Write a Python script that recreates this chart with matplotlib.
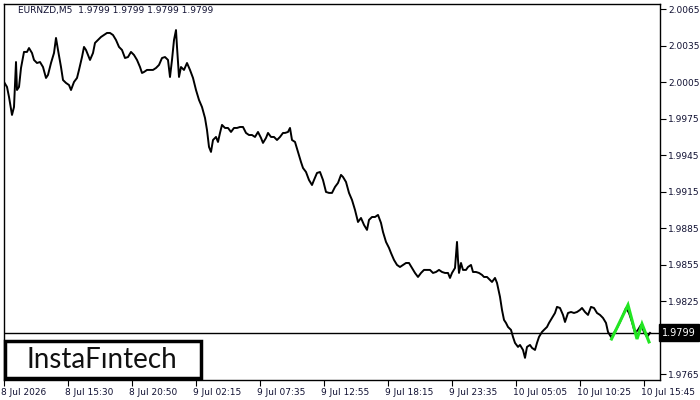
import matplotlib
matplotlib.use('Agg')
import matplotlib.pyplot as plt
import matplotlib.transforms as mtransforms
from matplotlib.patches import Rectangle

# ── Data (EURNZD M5, bar index -> close) ──────────────────
bar = [0, 3, 5, 8, 10, 12, 13, 15, 17, 20, 23, 25, 28, 30, 33, 36, 39, 42, 44, 47,
       50, 52, 54, 57, 59, 62, 65, 67, 70, 73, 75, 78, 80, 82, 84, 86, 89, 91, 94, 97,
       100, 103, 106, 109, 112, 115, 118, 121, 124, 127, 130, 133, 136, 138, 140, 143,
       146, 149, 152, 155, 158, 161, 164, 166, 168, 170, 172, 173, 175, 177, 180, 183,
       186, 189, 192, 195, 198, 201, 203, 205, 207, 209, 212, 214, 216, 218, 221, 224,
       227, 230, 233, 236, 239, 242, 245, 248, 251, 254, 257, 259, 262, 264, 267, 270,
       273, 276, 279, 281, 284, 286, 288, 291, 294, 297, 299, 302, 305, 308, 310, 313,
       316, 319, 322, 325, 328, 331, 334, 337, 339, 342, 345, 348, 351, 354, 357, 360,
       363, 365, 368, 371, 374, 377, 379, 382, 385, 387, 390, 393, 396, 399, 402, 405,
       408, 411, 414, 417, 420, 423, 426, 429, 432, 435, 438, 441, 444, 446, 448, 451,
       453, 454, 455, 457, 459, 462, 464, 467, 469, 472, 475, 478, 480, 483, 486, 488,
       491, 493, 496, 498, 500, 502, 504, 507, 509, 511, 514, 516, 519, 521, 523, 526,
       528, 531, 533, 535, 538, 540, 543, 545, 548, 551, 553, 556, 559, 561, 564, 567,
       570, 573, 576, 578, 581, 584, 587, 590, 593, 596, 599, 602, 604, 607, 610, 613,
       616, 619, 622, 625, 628, 631, 634, 637, 640, 643, 646]

close = [2.00052, 2.00011, 1.99929, 1.99781, 1.99846, 2.00216, 1.99986, 2.00011, 2.00167, 2.00299,
         2.00299, 2.00331, 2.00290, 2.00233, 2.00208, 2.00216, 2.00175, 2.00085, 2.00110, 2.00208,
         2.00290, 2.00414, 2.00315, 2.00175, 2.00068, 2.00044, 2.00027, 1.99986, 2.00052, 2.00085,
         2.00151, 2.00257, 2.00340, 2.00315, 2.00274, 2.00233, 2.00290, 2.00373, 2.00397, 2.00422,
         2.00438, 2.00455, 2.00455, 2.00438, 2.00397, 2.00340, 2.00315, 2.00249, 2.00257, 2.00299,
         2.00274, 2.00233, 2.00175, 2.00126, 2.00134, 2.00151, 2.00151, 2.00151, 2.00167, 2.00192,
         2.00249, 2.00257, 2.00233, 2.00093, 2.00233, 2.00397, 2.00479, 2.00340, 2.00093, 2.00175,
         2.00151, 2.00208, 2.00151, 2.00085, 1.99986, 1.99904, 1.99846, 1.99756, 1.99657, 1.99518,
         1.99477, 1.99575, 1.99600, 1.99559, 1.99633, 1.99699, 1.99674, 1.99674, 1.99641, 1.99674,
         1.99674, 1.99682, 1.99682, 1.99633, 1.99616, 1.99616, 1.99600, 1.99641, 1.99592, 1.99551,
         1.99592, 1.99633, 1.99600, 1.99600, 1.99575, 1.99600, 1.99633, 1.99633, 1.99641, 1.99674,
         1.99575, 1.99559, 1.99477, 1.99394, 1.99345, 1.99312, 1.99246, 1.99205, 1.99246, 1.99304,
         1.99312, 1.99246, 1.99148, 1.99140, 1.99140, 1.99189, 1.99222, 1.99288, 1.99271, 1.99230,
         1.99140, 1.99082, 1.99000, 1.98901, 1.98934, 1.98877, 1.98836, 1.98918, 1.98942, 1.98942,
         1.98959, 1.98893, 1.98819, 1.98737, 1.98688, 1.98646, 1.98589, 1.98548, 1.98531, 1.98548,
         1.98564, 1.98564, 1.98523, 1.98482, 1.98449, 1.98482, 1.98507, 1.98507, 1.98507, 1.98482,
         1.98490, 1.98507, 1.98490, 1.98482, 1.98482, 1.98441, 1.98482, 1.98523, 1.98737, 1.98589,
         1.98482, 1.98564, 1.98507, 1.98507, 1.98531, 1.98548, 1.98490, 1.98490, 1.98482, 1.98466,
         1.98449, 1.98449, 1.98425, 1.98408, 1.98441, 1.98400, 1.98285, 1.98178, 1.98096, 1.98071,
         1.98038, 1.98014, 1.97956, 1.97907, 1.97874, 1.97890, 1.97849, 1.97784, 1.97874, 1.97890,
         1.97866, 1.97849, 1.97907, 1.97956, 1.97997, 1.98014, 1.98038, 1.98071, 1.98112, 1.98153,
         1.98203, 1.98194, 1.98137, 1.98079, 1.98153, 1.98161, 1.98153, 1.98161, 1.98178, 1.98194,
         1.98161, 1.98137, 1.98203, 1.98194, 1.98153, 1.98137, 1.98112, 1.98071, 1.97997, 1.97956,
         1.97989, 1.98030, 1.98079, 1.98137, 1.98194, 1.98153, 1.98079, 1.97989, 1.98014, 1.98055,
         1.97997, 1.97956, 1.97989]

# pattern (green zigzag)
pattern_bar = [607.5, 624, 633, 638, 645]
pattern_price = [1.97939, 1.98219, 1.97939, 1.98063, 1.97915]

last_price = 1.9799
price_ticks = [2.0065, 2.0035, 2.0005, 1.9975, 1.9945, 1.9915, 1.9885,
               1.9855, 1.9825, 1.9795, 1.9765]
time_ticks = [0, 64, 128, 192, 256, 320, 384, 448, 512, 576, 640]
time_labels = ['8 Jul 2026', '8 Jul 15:30', '8 Jul 20:50', '9 Jul 02:15',
               '9 Jul 07:35', '9 Jul 12:55', '9 Jul 18:15', '9 Jul 23:35',
               '10 Jul 05:05', '10 Jul 10:25', '10 Jul 15:45']

# ── Figure ─────────────────────────────────────────────────
W, H = 700, 400
fig = plt.figure(figsize=(7, 4), dpi=100)
fig.patch.set_facecolor('white')
ax = fig.add_axes([4 / W, 20 / H, 656 / W, 376 / H])

ax.plot(bar, close, color='black', linewidth=1.4, zorder=2)
ax.plot(pattern_bar, pattern_price, color='#22e622', linewidth=2.2,
        solid_joinstyle='miter', zorder=3)
ax.axhline(last_price, color='black', linewidth=1, zorder=1)

ax.set_xlim(0, 656)
ax.set_ylim(1.97602, 2.00693)

for s in ax.spines.values():
    s.set_linewidth(1)
    s.set_color('black')

ax.yaxis.tick_right()
ax.set_yticks(price_ticks)
ax.set_yticklabels([f'{p:.4f}' for p in price_ticks])
ax.tick_params(axis='y', length=4, width=0.8, pad=2, labelsize=6.5,
               labelcolor='#111133')
ax.set_xticks(time_ticks)
ax.set_xticklabels(time_labels)
ax.tick_params(axis='x', length=4, width=0.8, pad=2, labelsize=6.5,
               labelcolor='#111133')

# x labels start at the tick, MT4 style
offset = mtransforms.ScaledTranslation(-2 / 72, 0, fig.dpi_scale_trans)
for lbl in ax.get_xticklabels():
    lbl.set_horizontalalignment('left')
    lbl.set_transform(lbl.get_transform() + offset)

# current price box (covers the 1.9795 label like the terminal does)
trans = mtransforms.blended_transform_factory(ax.transAxes, ax.transData)
ax.text(1.003, last_price, f'{last_price:.4f}', transform=trans,
        color='white', fontsize=7, va='center', ha='left', zorder=5,
        bbox=dict(facecolor='black', edgecolor='black', pad=2.4),
        clip_on=False)

# header
fig.text(18 / W, 1 - 10 / H, 'EURNZD,M5  1.9799 1.9799 1.9799 1.9799',
         fontsize=6.5, color='#111133', va='center', ha='left')

# logo
fig.patches.append(Rectangle((5 / W, 1 - 378 / H), 196 / W, 37 / H,
                             transform=fig.transFigure, facecolor='white',
                             edgecolor='black', linewidth=2.5, zorder=10))
fig.text(102 / W, 1 - 360 / H, 'InstaF\u0131ntech', fontsize=20,
         family='Lato', color='#111111', ha='center', va='center', zorder=11)

plt.savefig('out.png', dpi=100, facecolor='white')
